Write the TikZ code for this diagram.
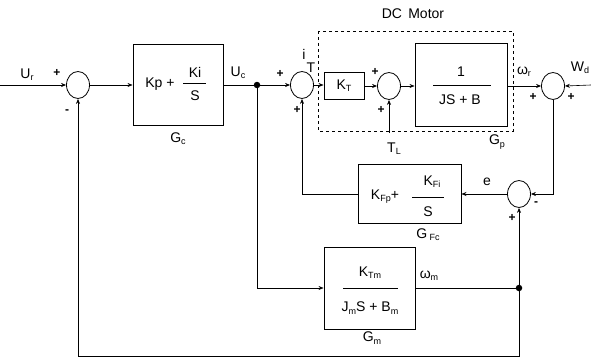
\documentclass[tikz,border=0pt]{standalone}
\usepackage{fontspec}
\setmainfont{Liberation Sans}
\usetikzlibrary{shapes.geometric,arrows.meta}
\newcommand{\sbs}[1]{\raisebox{-0.3ex}{\fontsize{9}{10}\selectfont #1}}
\begin{document}
\begin{tikzpicture}[x=1pt,y=-1pt,
  blk/.style={draw, line width=0.9pt, rectangle, inner sep=0pt},
  sumc/.style={draw, ellipse, line width=0.8pt, minimum width=23pt, minimum height=27pt, inner sep=0pt},
  dotn/.style={circle, fill, inner sep=0pt, minimum size=6.5pt},
  lbl/.style={inner sep=0pt, font=\fontsize{14}{16}\selectfont},
  sgn/.style={inner sep=0pt, font=\fontsize{12}{14}\selectfont\bfseries},
  conn/.style={line width=0.6pt, -{Stealth[length=5pt,width=4pt]}},
  ln/.style={line width=0.6pt},
  bar/.style={line width=0.7pt}]
\useasboundingbox (0,0) rectangle (591,361);

% summing junctions
\node[sumc] (s1) at (78,85) {};
\node[sumc] (s2) at (302,85) {};
\node[sumc] (s3) at (389,86) {};
\node[sumc] (s4) at (553,86) {};
\node[sumc] (s5) at (519,194) {};

% blocks
\node[blk, minimum width=90pt, minimum height=81pt] (gc) at (178,84.5) {};
\node[blk, minimum width=40pt, minimum height=27pt] (kt) at (344,85.5) {};
\node[blk, minimum width=92pt, minimum height=83pt] (gp) at (461,84.5) {};
\node[blk, minimum width=103pt, minimum height=59pt] (gfc) at (409.5,193.5) {};
\node[blk, minimum width=91pt, minimum height=82pt] (gm) at (369.5,288) {};

% DC motor dashed box
\draw[dashed, line width=0.6pt] (318,31) rectangle (513,131);
\node[lbl] (dcm) at (413,14) {DC\, Motor};

% dots
\node[dotn] (d1) at (257,85) {};
\node[dotn] (d2) at (519,288) {};

% free ends
\coordinate (in) at (0,85);
\coordinate (wd) at (591,85);
\coordinate (tl) at (389,133);
\coordinate (fb) at (519,356);

% connectors
\draw[conn] (in) -- (s1.west);
\draw[conn] (s1.east) -- (gc.west |- s1.east);
\draw[ln] (gc.east |- d1) -- (d1);
\draw[conn] (d1) -- (s2.west);
\draw[conn] (s2.east) -- (kt.west |- s2.east);
\draw[conn] (kt.east |- s3.west) -- (s3.west);
\draw[conn] (s3.east) -- (gp.west |- s3.east);
\draw[conn] (gp.east |- s4.west) -- (s4.west);
\draw[conn] (wd) -- (s4.east);
\draw[conn] (s4.south) |- (s5.east);
\draw[conn] (s5.west) -- (gfc.east |- s5.west);
\draw[conn] (gfc.west |- s5.west) -| (s2.south);
\draw[conn] (tl) -- (s3.south);
\draw[conn] (d1) |- (gm.west);
\draw[ln] (gm.east) -- (d2);
\draw[conn] (d2) -- (s5.south);
\draw[conn] (d2) -- (fb) -| (s1.south);

% block contents
\node[lbl] (gcA) at (160,84) {Kp +};
\node[lbl] (gcB) at (195,72) {Ki};
\draw[bar] (183,83) -- (206,83);
\node[lbl] (gcC) at (195,96) {S};

\node[lbl] (ktA) at (344,86) {K\sbs{T}};

\node[lbl] (gpA) at (461,72) {1};
\draw[bar] (433,85) -- (491,85);
\node[lbl] (gpB) at (460,100) {JS + B};

\node[lbl] (gfA) at (385,197) {K\sbs{Fp}+};
\node[lbl] (gfB) at (432,182) {K\sbs{Fi}};
\draw[bar] (412,197) -- (444,197);
\node[lbl] (gfC) at (428,212) {S};

\node[lbl] (gmA) at (370,273) {K\sbs{Tm}};
\draw[bar] (343,288) -- (398,288);
\node[lbl] (gmB) at (370,308) {J\sbs{m}S + B\sbs{m}};

% labels
\node[lbl] (ur) at (27,75) {U\sbs{r}};
\node[sgn] (p1) at (57,73) {+};
\node[sgn] (m1) at (67,112) {-};
\node[lbl] (gcl) at (178,139) {G\sbs{c}};
\node[lbl] (uc) at (238,73) {U\sbs{c}};
\node[sgn] (p2a) at (280,74) {+};
\node[sgn] (p2b) at (297,110) {+};
\node[lbl] (iL) at (304,54) {i};
\node[lbl] (tL) at (311,68) {T};
\node[sgn] (p3a) at (375,72) {+};
\node[sgn] (p3b) at (381,110) {+};
\node[lbl] (tll) at (394,149) {T\sbs{L}};
\node[lbl] (gpl) at (497,142) {G\sbs{p}};
\node[lbl] (wr) at (524,72) {ω\sbs{r}};
\node[lbl] (wdl) at (580,68) {W\sbs{d}};
\node[sgn] (p4a) at (533,97) {+};
\node[sgn] (p4b) at (571,97) {+};
\node[lbl] (el) at (487,182) {e};
\node[sgn] (m5) at (536,204) {-};
\node[sgn] (p5) at (512,218) {+};
\node[lbl] (gfcl) at (428,235) {G\,\sbs{Fc}};
\node[lbl] (wm) at (429,276) {ω\sbs{m}};
\node[lbl] (gml) at (372,338) {G\sbs{m}};
\end{tikzpicture}
\end{document}
